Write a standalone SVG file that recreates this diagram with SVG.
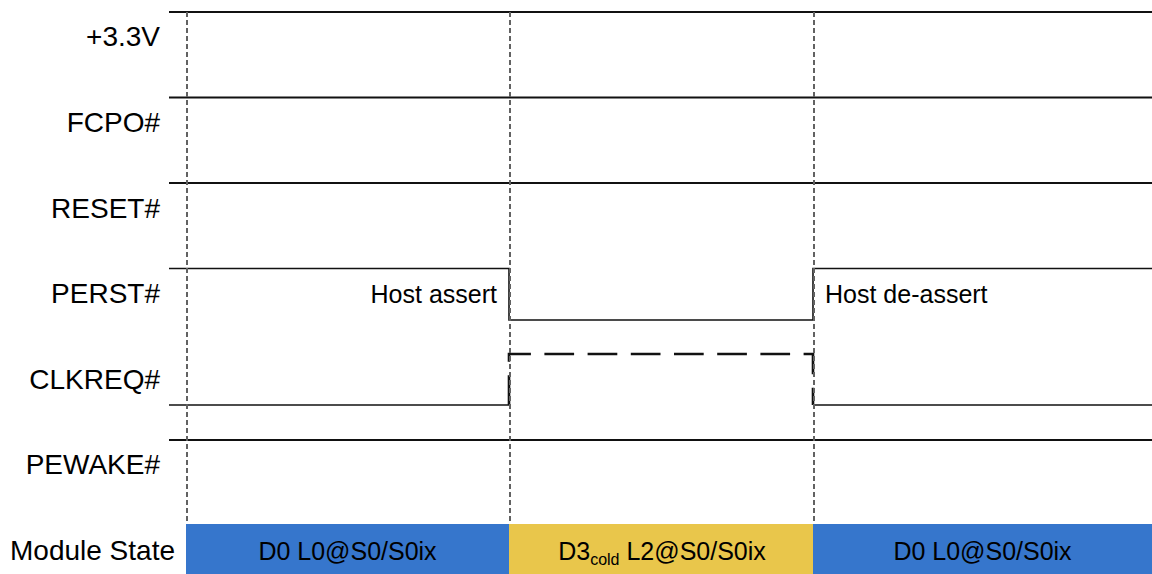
<svg xmlns="http://www.w3.org/2000/svg" width="1152" height="574" viewBox="0 0 1152 574">
  <style>
    .lbl { font-family: "Liberation Sans", Arial, sans-serif; font-size: 28px; fill: #000; text-anchor: end; }
    .note { font-family: "Liberation Sans", Arial, sans-serif; font-size: 25px; fill: #000; }
    .state { font-family: "Liberation Sans", Arial, sans-serif; font-size: 25px; fill: #000; text-anchor: middle; }
    .sig { fill: none; stroke: #111; stroke-width: 2; }
    .sigthin { fill: none; stroke: #111; stroke-width: 1.6; }
    .sigdash { fill: none; stroke: #111; stroke-width: 2.6; stroke-dasharray: 29.7 13.5; }
    .grid { fill: none; stroke: #626262; stroke-width: 2; stroke-dasharray: 5 3; }
  </style>
  <rect width="1152" height="574" fill="#fff"/>

  <g id="row-3v3">
    <text class="lbl" x="160" y="46">+3.3V</text>
    <path class="sig" d="M169,12 H1152"/>
  </g>
  <g id="row-fcpo">
    <text class="lbl" x="160" y="132">FCPO#</text>
    <path class="sig" d="M169,97.5 H1152"/>
  </g>
  <g id="row-reset">
    <text class="lbl" x="160" y="218">RESET#</text>
    <path class="sig" d="M169,183 H1152"/>
  </g>
  <g id="row-perst">
    <text class="lbl" x="160" y="303">PERST#</text>
    <path class="sigthin" d="M169,268.5 H509 V320 H813 V268.5 H1152"/>
    <text class="note" x="497" y="302.5" text-anchor="end">Host assert</text>
    <text class="note" x="825" y="302.5">Host de-assert</text>
  </g>
  <g id="row-clkreq">
    <text class="lbl" x="160" y="389">CLKREQ#</text>
    <path class="sigthin" d="M169,405 H509"/>
    <path class="sigdash" d="M509,405 V354 H813 V405"/>
    <path class="sigthin" d="M813,405 H1152"/>
  </g>
  <g id="row-pewake">
    <text class="lbl" x="160" y="474">PEWAKE#</text>
    <path class="sig" d="M169,440 H1152"/>
  </g>

  <g id="connectors">
    <path class="grid" d="M187,12 V524"/>
    <path class="grid" d="M510,12 V524"/>
    <path class="grid" d="M814,12 V524"/>
  </g>

  <g id="module-state">
    <text class="lbl" x="175" y="560">Module State</text>
    <rect x="186" y="524" width="323" height="50" fill="#3676CC"/>
    <rect x="509" y="524" width="304" height="50" fill="#E9C64B"/>
    <rect x="813" y="524" width="339" height="50" fill="#3676CC"/>
    <text class="state" x="347.5" y="560">D0 L0@S0/S0ix</text>
    <text class="state" x="662" y="560">D3<tspan font-size="16" dy="5">cold</tspan><tspan dy="-5"> L2@S0/S0ix</tspan></text>
    <text class="state" x="982.5" y="560">D0 L0@S0/S0ix</text>
  </g>
</svg>
